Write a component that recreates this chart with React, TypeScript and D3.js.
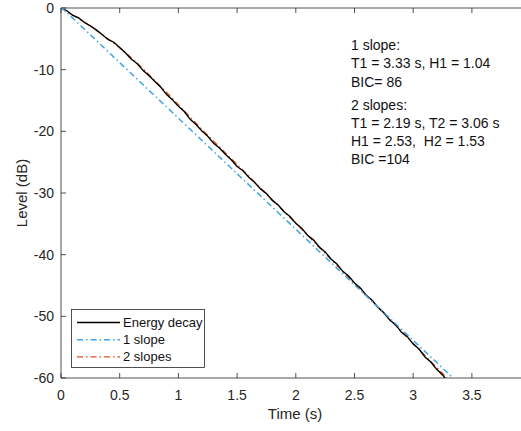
import { useEffect, useRef } from "react";
import * as d3 from "d3";

// measured energy decay curve (time in s, level in dB)
const decayTime = [
  0, 0.05, 0.1, 0.15, 0.2, 0.25, 0.3, 0.35, 0.4, 0.45, 0.5, 0.55, 0.6, 0.65, 0.7, 0.75, 0.8, 0.85,
  0.9, 0.95, 1.0, 1.05, 1.1, 1.15, 1.2, 1.25, 1.3, 1.35, 1.4, 1.45, 1.5, 1.55, 1.6, 1.65, 1.7, 1.75,
  1.8, 1.85, 1.9, 1.95, 2.0, 2.05, 2.1, 2.15, 2.2, 2.25, 2.3, 2.35, 2.4, 2.45, 2.5, 2.55, 2.6, 2.65,
  2.7, 2.75, 2.8, 2.85, 2.9, 2.95, 3.0, 3.05, 3.1, 3.15, 3.2, 3.25, 3.3,
];
const decayLevel = [
  0, -0.45, -1.2, -1.6, -2.35, -2.9, -3.55, -4.3, -5.1, -5.55, -6.4, -7.3, -8.3, -9.05, -10.15,
  -11.0, -11.9, -12.85, -14.05, -14.9, -15.95, -16.8, -18.05, -18.9, -19.95, -20.8, -21.95, -22.7,
  -23.7, -24.6, -25.7, -26.4, -27.45, -28.3, -29.35, -30.1, -31.2, -31.95, -33.05, -33.8, -34.9,
  -35.7, -36.85, -37.6, -38.75, -39.55, -40.7, -41.5, -42.7, -43.45, -44.6, -45.4, -46.6, -47.4,
  -48.55, -49.4, -50.6, -51.35, -52.6, -53.3, -54.5, -55.3, -56.6, -57.4, -58.6, -59.5, -60.7,
];

// single slope fit
const oneSlopeTime = [0, 3.4];
const oneSlopeLevel = [0.15, -61.1];

// two slope fit
const twoSlopeTime = [
  0, 0.1, 0.2, 0.3, 0.4, 0.5, 0.6, 0.7, 0.8, 0.9, 1.0, 1.1, 1.2, 1.3, 1.4, 1.5, 1.6, 1.7, 1.8, 1.9,
  2.0, 2.1, 2.2, 2.3, 2.4, 2.5, 2.6, 2.7, 2.8, 2.9, 3.0, 3.1, 3.2, 3.3,
];
const twoSlopeLevel = [
  0, -1.1, -2.3, -3.6, -5.0, -6.45, -8.1, -9.9, -11.8, -13.7, -15.7, -17.7, -19.7, -21.6, -23.5,
  -25.4, -27.3, -29.2, -31.1, -33.0, -34.9, -36.85, -38.8, -40.75, -42.7, -44.65, -46.6, -48.55,
  -50.5, -52.45, -54.4, -56.35, -58.3, -60.25,
];

const xTicks = [0, 0.5, 1, 1.5, 2, 2.5, 3, 3.5];
const yTicks = [0, -10, -20, -30, -40, -50, -60];

const legendLabels = ["Energy decay", "1 slope", "2 slopes"];
const noteLines1 = ["1 slope:", "T1 = 3.33 s, H1 = 1.04", "BIC= 86"];
const noteLines2 = ["2 slopes:", "T1 = 2.19 s, T2 = 3.06 s", "H1 = 2.53,\u00A0 H2 = 1.53", "BIC =104"];

const W = 521;
const H = 431;
const axisColor = "#262626";
const blue = "#3ea6e3";
const orange = "#d95319";
const font = "'Liberation Sans', Arial, sans-serif";

export default function App() {
  const ref = useRef<SVGSVGElement>(null);

  useEffect(() => {
    const svg = d3.select(ref.current);
    svg.selectAll("*").remove();

    const left = 61, top = 8, bottom = 378;
    const x = d3.scaleLinear().domain([0, 4]).range([left, left + 4 * 117.4]);
    const y = d3.scaleLinear().domain([-60, 0]).range([bottom, top]);

    svg.append("clipPath").attr("id", "plot").append("rect")
      .attr("x", left).attr("y", top).attr("width", W - left).attr("height", bottom - top);

    // box lines
    svg.append("line").attr("x1", left).attr("x2", W).attr("y1", top).attr("y2", top)
      .attr("stroke", axisColor).attr("stroke-width", 0.8);
    svg.append("line").attr("x1", left).attr("x2", W).attr("y1", bottom).attr("y2", bottom)
      .attr("stroke", axisColor).attr("stroke-width", 0.8);
    svg.append("line").attr("x1", left).attr("x2", left).attr("y1", top).attr("y2", bottom)
      .attr("stroke", axisColor).attr("stroke-width", 0.8);

    // x ticks (bottom + top, pointing inwards)
    xTicks.forEach((t) => {
      const px = x(t);
      svg.append("line").attr("x1", px).attr("x2", px).attr("y1", bottom).attr("y2", bottom - 5)
        .attr("stroke", axisColor).attr("stroke-width", 0.8);
      svg.append("line").attr("x1", px).attr("x2", px).attr("y1", top).attr("y2", top + 5)
        .attr("stroke", axisColor).attr("stroke-width", 0.8);
      svg.append("text").attr("x", px).attr("y", 400).attr("text-anchor", "middle")
        .attr("font-family", font).attr("font-size", 14).attr("fill", axisColor).text(String(t));
    });

    yTicks.forEach((t) => {
      const py = y(t);
      svg.append("line").attr("x1", left).attr("x2", left + 5).attr("y1", py).attr("y2", py)
        .attr("stroke", axisColor).attr("stroke-width", 0.8);
      svg.append("text").attr("x", 54).attr("y", py + 5).attr("text-anchor", "end")
        .attr("font-family", font).attr("font-size", 14).attr("fill", axisColor).text(String(t));
    });

    svg.append("text").attr("x", 295).attr("y", 419).attr("text-anchor", "middle")
      .attr("font-family", font).attr("font-size", 15).attr("fill", axisColor).text("Time (s)");
    svg.append("text").attr("transform", `translate(27,${(top + bottom) / 2}) rotate(-90)`)
      .attr("text-anchor", "middle").attr("font-family", font).attr("font-size", 15)
      .attr("fill", axisColor).text("Level (dB)");

    const line = d3.line<[number, number]>().x((d) => x(d[0])).y((d) => y(d[1]));
    const g = svg.append("g").attr("clip-path", "url(#plot)");

    const oneSlope = oneSlopeTime.map((t, i) => [t, oneSlopeLevel[i]] as [number, number]);
    const twoSlope = twoSlopeTime.map((t, i) => [t, twoSlopeLevel[i]] as [number, number]);
    const decay = decayTime.map((t, i) => [t, decayLevel[i]] as [number, number]);

    g.append("path").attr("d", line.curve(d3.curveMonotoneX)(twoSlope))
      .attr("fill", "none").attr("stroke", orange).attr("stroke-width", 1.4)
      .attr("stroke-dasharray", "6,3,1.5,3");
    g.append("path").attr("d", line.curve(d3.curveLinear)(decay))
      .attr("fill", "none").attr("stroke", "#000").attr("stroke-width", 1.4);
    g.append("path").attr("d", line(oneSlope))
      .attr("fill", "none").attr("stroke", blue).attr("stroke-width", 1.5)
      .attr("stroke-dasharray", "6,3,1.5,3");

    // annotation
    const note = svg.append("g").attr("font-family", font).attr("font-size", 14).attr("fill", "#111");
    noteLines1.forEach((s, i) => {
      note.append("text").attr("x", 351).attr("y", 50 + i * 18.3).text(s);
    });
    noteLines2.forEach((s, i) => {
      note.append("text").attr("x", 351).attr("y", 110 + i * 18).text(s);
    });

    // legend
    const lg = svg.append("g");
    lg.append("rect").attr("x", 71.5).attr("y", 309.5).attr("width", 133).attr("height", 58)
      .attr("fill", "#fff").attr("stroke", axisColor).attr("stroke-width", 0.8);
    const legendColors = ["#000", blue, orange];
    legendLabels.forEach((s, i) => {
      const cy = 322.5 + i * 17.2;
      lg.append("line").attr("x1", 77).attr("x2", 120).attr("y1", cy).attr("y2", cy)
        .attr("stroke", legendColors[i]).attr("stroke-width", 1.4)
        .attr("stroke-dasharray", i === 0 ? null : "6,3,1.5,3");
      lg.append("text").attr("x", 123).attr("y", cy + 4.5).attr("font-family", font)
        .attr("font-size", 13).attr("fill", "#111").text(s);
    });
  }, []);

  return (
    <div style={{ position: "absolute", left: 0, top: 0, background: "#fff" }}>
      <svg ref={ref} width={W} height={H}></svg>
    </div>
  );
}
